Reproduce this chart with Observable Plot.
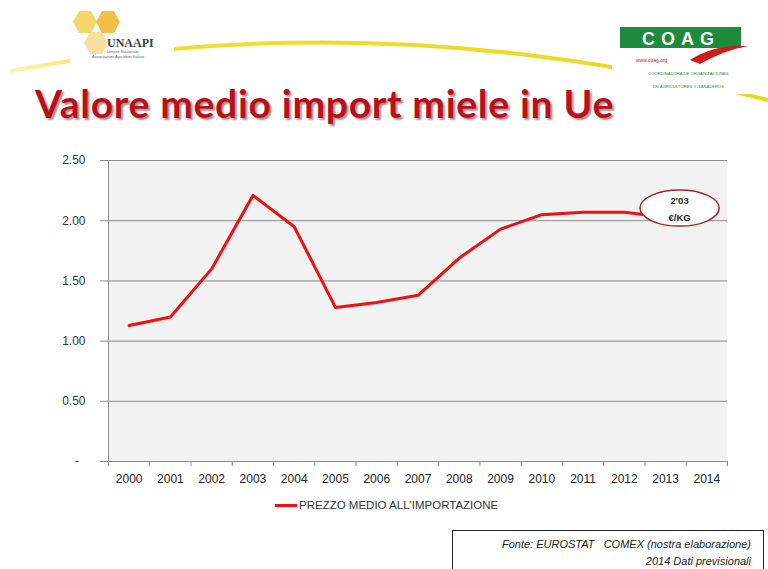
<!DOCTYPE html>
<html><head><meta charset="utf-8">
<script src="https://cdn.jsdelivr.net/npm/d3@7"></script>
<script src="https://cdn.jsdelivr.net/npm/@observablehq/plot@0.6"></script>
<style>
body{margin:0;background:#fff;}
#page{position:relative;width:768px;height:569px;overflow:hidden;background:#fff;font-family:"Liberation Sans",Arial,sans-serif;}
#deco{position:absolute;left:0;top:0;}
#title{position:absolute;left:35px;top:80px;font-family:Lato,"Liberation Sans",sans-serif;font-size:39px;font-weight:bold;color:#b8101c;text-shadow:2px 2px 2px rgba(60,0,0,0.45);white-space:nowrap;letter-spacing:0.7px;}
#chart{position:absolute;left:0;top:140px;}
#legend{position:absolute;left:275px;top:499px;font-size:11.5px;color:#333;display:flex;align-items:center;}
#legend .sw{width:22px;height:3px;background:#ee1111;margin-right:2px;}
#source{position:absolute;left:452px;top:530px;width:312px;height:45px;border:1px solid #222;box-sizing:border-box;font-style:italic;font-size:11px;color:#222;text-align:right;padding:5px 12px 0 0;line-height:17px;}
</style></head><body><div id="page">
<svg id="deco" width="768" height="140">
  <defs>
    <linearGradient id="yg" x1="0" x2="1" y1="0" y2="0">
      <stop offset="0" stop-color="#f2e640" stop-opacity="0.4"/>
      <stop offset="0.15" stop-color="#efe030"/>
      <stop offset="1" stop-color="#e9d820"/>
    </linearGradient>
  </defs>
  <path d="M 10 71 Q 384 2 768 100" fill="none" stroke="url(#yg)" stroke-width="4"/>
  <!-- UNAAPI logo -->
  <rect x="70" y="6" width="104" height="62" fill="#fff"/>
  <polygon points="73,22 79,11 91,11 97,22 91,33 79,33" fill="#f7cf55" opacity="0.85"/>
  <polygon points="96,22 102,11 114,11 120,22 114,33 102,33" fill="#f2b733" opacity="0.9"/>
  <polygon points="84,43 90,32 102,32 108,43 102,54 90,54" fill="#f9d98f" opacity="0.85"/>
  <text x="107" y="47" font-family="Liberation Serif,serif" font-weight="bold" font-size="12" fill="#3a3f55">UNAAPI</text>
  <text x="107" y="53" font-size="4" fill="#667">Unione Nazionale</text>
  <text x="92" y="58" font-size="4" fill="#667">Associazioni Apicoltori Italiani</text>
  <!-- COAG logo -->
  <rect x="612" y="22" width="150" height="72" fill="#fff"/>
  <rect x="620" y="27" width="121" height="21" fill="#1d8a3c"/>
  <text x="681" y="45" text-anchor="middle" font-size="18" font-weight="bold" fill="#fff" letter-spacing="6">COAG</text>
  <path d="M 690 60 Q 715 44 748 46 Q 725 50 700 64 Z" fill="#d21b1b"/>
  <text x="636" y="62" font-size="5" fill="#c22">www.coag.org</text>
  <text x="648" y="75" font-size="4.2" fill="#2a8a40">COORDINADORA DE ORGANIZACIONES</text>
  <text x="653" y="88" font-size="4.2" fill="#2a8a40">DE AGRICULTORES Y GANADEROS</text>
</svg>
<div id="title">Valore medio import miele in Ue</div>
<div id="chart"></div>
<div id="legend"><div class="sw"></div><span>PREZZO MEDIO ALL'IMPORTAZIONE</span></div>
<div id="source">Fonte: EUROSTAT&nbsp;&nbsp; COMEX (nostra elaborazione)<br>2014 Dati previsionali</div>
</div>
<script>
const years = [2000,2001,2002,2003,2004,2005,2006,2007,2008,2009,2010,2011,2012,2013,2014];
const priceYears = [2000,2001,2002,2003,2004,2005,2006,2007,2008,2009,2010,2011,2012,2013];
const prices = [1.13,1.20,1.60,2.21,1.95,1.28,1.32,1.38,1.69,1.93,2.05,2.07,2.07,2.03];
const yTicks = [0,0.5,1,1.5,2,2.5];
const noteYear = 2013;
const noteValue = 2.03;
const noteText = "2'03\n€/KG";

const data = prices.map((v,i)=>({year: priceYears[i], value: v}));
const note = [{year: noteYear, value: noteValue, label: noteText}];
const boundaries = years.map(y => y - 0.5).concat([years[years.length-1] + 0.5]);

const ellipseSymbol = {
  draw(ctx, size){
    const r = Math.sqrt(size/Math.PI), rx = r*2.2, ry = r, k = 0.5523;
    ctx.moveTo(rx,0);
    ctx.bezierCurveTo(rx, ry*k, rx*k, ry, 0, ry);
    ctx.bezierCurveTo(-rx*k, ry, -rx, ry*k, -rx, 0);
    ctx.bezierCurveTo(-rx, -ry*k, -rx*k, -ry, 0, -ry);
    ctx.bezierCurveTo(rx*k, -ry, rx, -ry*k, rx, 0);
    ctx.closePath();
  }
};

const chart = Plot.plot({
  width: 768, height: 350,
  marginLeft: 108, marginRight: 41, marginTop: 20, marginBottom: 29,
  x: {type: "linear", domain: [years[0]-0.5, years[years.length-1]+0.5]},
  y: {domain: [0, 2.5]},
  style: {fontFamily: "Liberation Sans, Arial, sans-serif", fontSize: "12px", color: "#333", background: "transparent"},
  marks: [
    Plot.frame({fill: "#f2f2f2", stroke: null}),
    Plot.gridY(yTicks, {stroke: "#8c8c8c", strokeOpacity: 1}),
    Plot.axisY(yTicks, {tickSize: 8, tickPadding: 15, stroke: "#8c8c8c", fill: "#333", label: null,
      tickFormat: d => d === 0 ? "-\u00a0\u00a0" : d.toFixed(2)}),
    Plot.axisX(years, {tickSize: 0, tickPadding: 13, label: null, fill: "#222", tickFormat: d => String(d)}),
    Plot.axisX(boundaries, {tickSize: 5, stroke: "#8c8c8c", label: null, tickFormat: () => ""}),
    Plot.ruleX([years[0]-0.5], {stroke: "#8c8c8c"}),
    Plot.ruleY([0], {stroke: "#8c8c8c"}),
    Plot.line(data, {x: "year", y: "value", stroke: "#ee1111", strokeWidth: 3}),
    Plot.dot(note, {x: "year", y: "value", r: 18, symbol: ellipseSymbol, fill: "#ffffff", fillOpacity: 1, stroke: "#a02828", strokeWidth: 1.5, dx: 14, dy: -9}),
    Plot.text(note, {x: "year", y: "value", text: "label", dx: 14, dy: -10, fontSize: 9.5, fontWeight: "bold", fill: "#222", lineHeight: 1.8})
  ]
});
document.getElementById("chart").appendChild(chart);
</script>
</body></html>
